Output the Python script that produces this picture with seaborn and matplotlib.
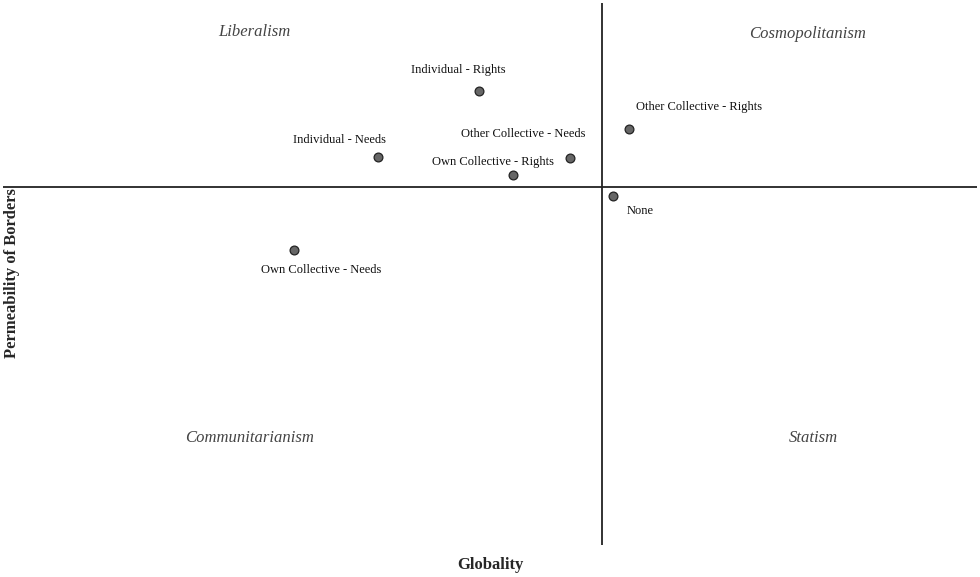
import matplotlib
matplotlib.use("Agg")
import matplotlib.pyplot as plt
import seaborn as sns
import pandas as pd

labels = ["Individual - Rights", "Other Collective - Rights", "Other Collective - Needs",
          "Individual - Needs", "Own Collective - Rights", "None", "Own Collective - Needs"]
globality = [-1.23, 0.27, -0.32, -2.24, -0.89, 0.11, -3.08]
permeability = [0.96, 0.58, 0.29, 0.30, 0.12, -0.09, -0.63]
quadrants = ["Liberalism", "Cosmopolitanism", "Communitarianism", "Statism"]

df = pd.DataFrame({"label": labels, "x": globality, "y": permeability})

sns.set_theme(style="white")
plt.rcParams['font.family'] = ['Liberation Serif', 'DejaVu Serif']

fig = plt.figure(figsize=(9.8, 5.77), dpi=100)
ax = fig.add_axes([3/980, 1-545/577, 974/980, 542/577])
ax.set_xlim(-5.99, 3.75)
ax.set_ylim(-3.58, 1.84)
ax.axhline(0, color="#222", lw=1.3)
ax.axvline(0, color="#222", lw=1.3)
sns.scatterplot(data=df, x="x", y="y", ax=ax, s=40, color="#666666",
                edgecolor="#222222", linewidth=0.9, zorder=3)

offsets = [(-21, 21, "center"), (7, 22, "left"), (-47, 24, "center"), (-39, 17, "center"),
           (-20, 13, "center"), (27, -15, "center"), (27, -20, "center")]
for (lab, x, y), (dx, dy, ha) in zip(zip(labels, globality, permeability), offsets):
    ax.annotate(lab, (x, y), xytext=(dx, dy), textcoords="offset pixels",
                ha=ha, va="center", fontsize=9, color="#111")

qpos = [(254, 32), (808, 34), (250, 438), (813, 438)]
for q, (px, py) in zip(quadrants, qpos):
    fig.text(px/980, 1-py/577, q, ha="center", va="center", fontsize=12,
             style="italic", color="#444")

ax.set_xlabel(""); ax.set_ylabel("")
ax.set_xticks([]); ax.set_yticks([])
for s in ax.spines.values():
    s.set_visible(False)
fig.text(490/980, 1-565/577, "Globality", ha="center", va="center", fontsize=12, fontweight="bold")
fig.text(12/980, 1-273/577, "Permeability of Borders", ha="center", va="center",
         fontsize=12, fontweight="bold", rotation=90)
fig.savefig("out.png", dpi=100, facecolor="white")
